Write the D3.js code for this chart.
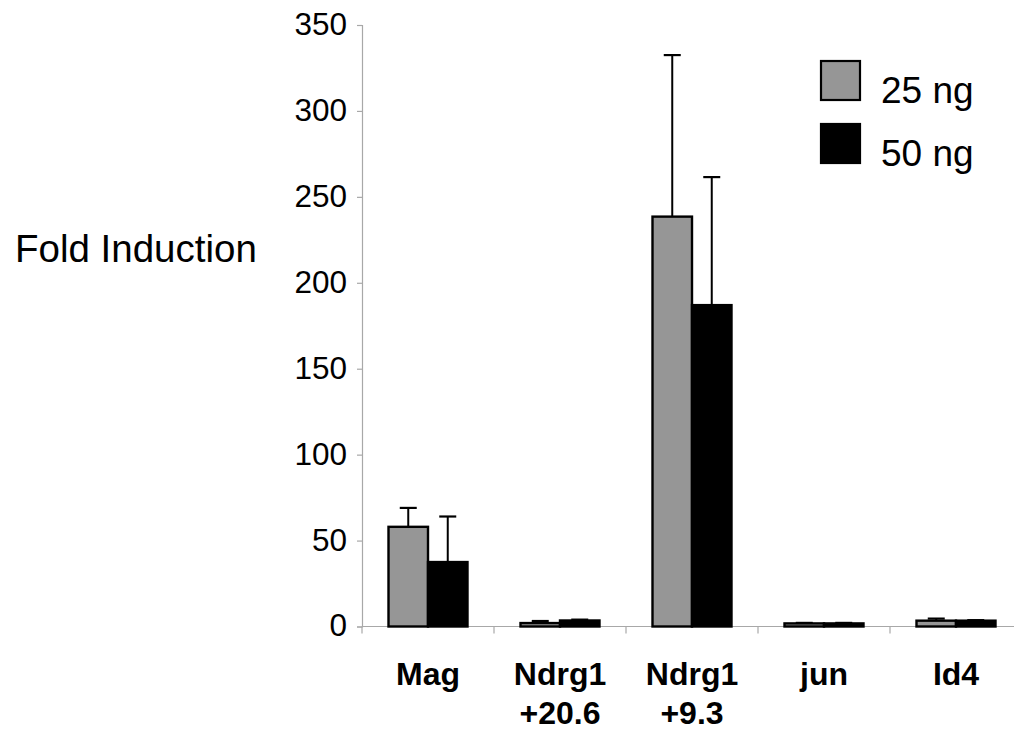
<!DOCTYPE html>
<html>
<head>
<meta charset="utf-8">
<script src="https://cdn.jsdelivr.net/npm/d3@7"></script>
<style>
  html, body { margin: 0; padding: 0; background: #fff; }
  svg { display: block; font-family: "Liberation Sans", Arial, sans-serif; }
</style>
</head>
<body>
<svg id="chart" width="1014" height="733"></svg>
<script>
// ---- data ----
const categories = ["Mag", "Ndrg1\n+20.6", "Ndrg1\n+9.3", "jun", "Id4"];
const seriesNames = ["25 ng", "50 ng"];
const values25 = [58, 2, 238.5, 1.8, 3.4];
const values50 = [37.5, 3.5, 187, 1.8, 3.4];
const errors25 = [11, 1.2, 94, 0.3, 1.2];
const errors50 = [26.5, 0.5, 74.5, 0.3, 0.3];
const yTicks = [0, 50, 100, 150, 200, 250, 300, 350];
const yLabel = "Fold Induction";
const seriesColors = ["#969696", "#000000"];

// ---- layout ----
const svg = d3.select("#chart");
const plotLeft = 362, plotRight = 1022, plotTop = 25, plotBottom = 626.5;

const x = d3.scaleBand().domain(categories).range([plotLeft, plotRight]).paddingInner(0).paddingOuter(0);
const xs = d3.scaleBand().domain(seriesNames).range([26.5, x.bandwidth() - 26.5]).padding(0);
const y = d3.scaleLinear().domain([0, 350]).range([plotBottom, plotTop]);

const axisColor = "#a8a8a8";

// Y axis
const yAxis = d3.axisLeft(y).tickValues(yTicks).tickSize(5).tickPadding(10);
const gy = svg.append("g").attr("transform", `translate(${plotLeft},0)`).call(yAxis);
gy.select(".domain").attr("stroke", axisColor).attr("stroke-width", 1.2);
gy.selectAll(".tick line").attr("stroke", axisColor).attr("stroke-width", 1.2);
gy.selectAll(".tick text").attr("font-size", 31.5).attr("fill", "#000")
  .attr("font-family", "'Liberation Sans', Arial, sans-serif").attr("dy", "0.3em");

// X axis baseline and ticks at band boundaries
svg.append("line").attr("x1", plotLeft).attr("x2", 1014)
  .attr("y1", y(0)).attr("y2", y(0)).attr("stroke", axisColor).attr("stroke-width", 1.2);
const boundaries = categories.map(c => x(c));
svg.selectAll(".xtick").data(boundaries).enter().append("line")
  .attr("x1", d => d).attr("x2", d => d)
  .attr("y1", y(0)).attr("y2", y(0) + 7)
  .attr("stroke", axisColor).attr("stroke-width", 1.2);

// Category labels
categories.forEach(c => {
  const lines = c.split("\n");
  const t = svg.append("text")
    .attr("x", x(c) + x.bandwidth() / 2)
    .attr("y", 685)
    .attr("text-anchor", "middle")
    .attr("font-weight", "bold")
    .attr("font-size", 32)
    .attr("fill", "#000");
  lines.forEach((ln, i) => {
    t.append("tspan").attr("x", x(c) + x.bandwidth() / 2).attr("dy", i === 0 ? 0 : 39).text(ln);
  });
});

// Bars
const seriesVals = [values25, values50];
const seriesErr = [errors25, errors50];
seriesNames.forEach((s, si) => {
  const g = svg.append("g");
  categories.forEach((c, ci) => {
    const v = seriesVals[si][ci];
    const e = seriesErr[si][ci];
    const bx = x(c) + xs(s);
    const bw = xs.bandwidth();
    const cx = bx + bw / 2;
    // error bar (upper only)
    g.append("line").attr("x1", cx).attr("x2", cx)
      .attr("y1", y(v)).attr("y2", y(v + e))
      .attr("stroke", "#000").attr("stroke-width", 2);
    g.append("line").attr("x1", cx - 8.5).attr("x2", cx + 8.5)
      .attr("y1", y(v + e)).attr("y2", y(v + e))
      .attr("stroke", "#000").attr("stroke-width", 2.2);
  });
});
seriesNames.forEach((s, si) => {
  svg.append("g").selectAll("rect").data(categories).enter().append("rect")
    .attr("x", c => x(c) + xs(s))
    .attr("width", xs.bandwidth())
    .attr("y", (c, ci) => y(seriesVals[si][ci]))
    .attr("height", (c, ci) => y(0) - y(seriesVals[si][ci]))
    .attr("fill", seriesColors[si])
    .attr("stroke", "#000").attr("stroke-width", 2.4);
});

// Y label
svg.append("text").attr("x", 15).attr("y", 262)
  .attr("font-size", 38.5).attr("fill", "#000").text(yLabel);

// Legend
const legendY = [61, 124];
seriesNames.forEach((s, i) => {
  svg.append("rect").attr("x", 821).attr("y", legendY[i]).attr("width", 39).attr("height", 39)
    .attr("fill", seriesColors[i]).attr("stroke", "#000").attr("stroke-width", 2.2);
  svg.append("text").attr("x", 881).attr("y", legendY[i] + 42)
    .attr("font-size", 37).attr("fill", "#000").text(s);
});
</script>
</body>
</html>
